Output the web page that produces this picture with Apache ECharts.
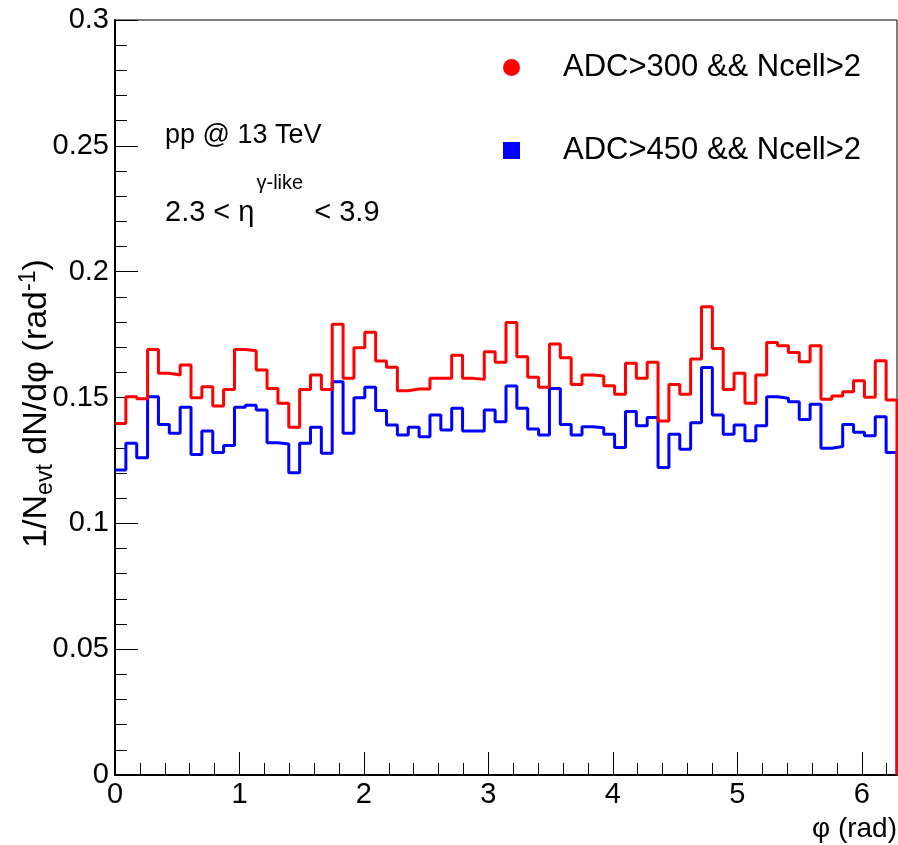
<!DOCTYPE html>
<html>
<head>
<meta charset="utf-8">
<script src="https://cdn.jsdelivr.net/npm/echarts@6/dist/echarts.min.js"></script>
<style>
html,body{margin:0;padding:0;background:#fff;}
#chart{width:898px;height:845px;}
</style>
</head>
<body>
<div id="chart"></div>
<script>
// ---- data ----
const PHI_MIN = 0;
const PHI_MAX = 2 * Math.PI;
const N_BINS = 72;
const seriesNames = ['ADC>300 && Ncell>2', 'ADC>450 && Ncell>2'];
const adc300 = [
  0.1397, 0.1503, 0.1495, 0.1691, 0.1596, 0.1589, 0.1629, 0.1499, 0.1543, 0.1466, 0.1532, 0.1691,
  0.1686, 0.1609, 0.1536, 0.1477, 0.1382, 0.1532, 0.1589, 0.1532, 0.1791, 0.1576, 0.1698, 0.1759,
  0.1645, 0.1620, 0.1527, 0.1534, 0.1534, 0.1576, 0.1576, 0.1668, 0.1576, 0.1572, 0.1682, 0.1640,
  0.1798, 0.1662, 0.1580, 0.1541, 0.1713, 0.1658, 0.1552, 0.1589, 0.1585, 0.1547, 0.1513, 0.1636,
  0.1576, 0.1640, 0.1407, 0.1552, 0.1513, 0.1653, 0.1861, 0.1695, 0.1532, 0.1596, 0.1477, 0.1589,
  0.1719, 0.1706, 0.1679, 0.1642, 0.1706, 0.1493, 0.1506, 0.1523, 0.1567, 0.1501, 0.1646, 0.1490
];
const adc450 = [
  0.1212, 0.1318, 0.1261, 0.1503, 0.1393, 0.1358, 0.1461, 0.1274, 0.1367, 0.1281, 0.1309, 0.1461,
  0.1469, 0.1450, 0.1320, 0.1315, 0.1201, 0.1318, 0.1382, 0.1278, 0.1563, 0.1358, 0.1499, 0.1541,
  0.1448, 0.1391, 0.1351, 0.1382, 0.1344, 0.1430, 0.1371, 0.1457, 0.1367, 0.1367, 0.1450, 0.1404,
  0.1546, 0.1457, 0.1375, 0.1351, 0.1536, 0.1393, 0.1351, 0.1384, 0.1380, 0.1354, 0.1301, 0.1444,
  0.1388, 0.1421, 0.1222, 0.1354, 0.1294, 0.1400, 0.1619, 0.1430, 0.1354, 0.1391, 0.1328, 0.1388,
  0.1503, 0.1497, 0.1483, 0.1413, 0.1473, 0.1298, 0.1305, 0.1393, 0.1362, 0.1348, 0.1424, 0.1281
];
const xTickLabels = ['0', '1', '2', '3', '4', '5', '6'];
const Y_MIN = 0, Y_MAX = 0.3, Y_STEP = 0.05;

// ---- build step outline (bin low edges + closing edge) ----
function histPoints(vals) {
  const w = (PHI_MAX - PHI_MIN) / N_BINS;
  const pts = vals.map((v, i) => [PHI_MIN + i * w, v]);
  pts.push([PHI_MAX, vals[vals.length - 1]]);
  pts.push([PHI_MAX, 0]);
  return pts;
}

const FONT = 'Liberation Sans, Arial, Helvetica, sans-serif';
const chart = echarts.init(document.getElementById('chart'), null, {renderer: 'canvas'});

const option = {
  animation: false,
  backgroundColor: '#fff',
  grid: {left: 115, right: 1, top: 20, bottom: 70, show: true, borderColor: '#000', borderWidth: 1,
         containLabel: false, outerBoundsMode: 'none'},
  legend: {
    orient: 'vertical', left: 498, top: 47, itemWidth: 17, itemHeight: 17, itemGap: 52,
    selectedMode: false,
    textStyle: {fontFamily: FONT, fontSize: 31, color: '#000', lineHeight: 30, padding: [0, 0, 0, 38]},
    data: [{name: seriesNames[0], icon: 'circle'}, {name: seriesNames[1], icon: 'rect'}]
  },
  xAxis: [{
    type: 'value', min: PHI_MIN, max: PHI_MAX, interval: 1, position: 'bottom',
    axisLine: {show: true, onZero: false, lineStyle: {color: '#000', width: 2}},
    axisTick: {show: true, inside: true, length: 23, lineStyle: {color: '#000', width: 1}},
    minorTick: {show: false},
    splitLine: {show: false},
    axisLabel: {fontFamily: FONT, fontSize: 29, color: '#000', margin: 5,
      formatter: v => { const r = Math.round(v); return Math.abs(v - r) < 1e-6 ? xTickLabels[r] : ''; }},
    name: 'φ (rad)', nameLocation: 'end', nameGap: 0, nameMoveOverlap: false,
    nameTextStyle: {fontFamily: FONT, fontSize: 28, color: '#000', align: 'right', verticalAlign: 'top', padding: [40, 0, 0, 0]}
  }, {
    type: 'value', min: PHI_MIN, max: PHI_MAX, interval: 0.2, position: 'bottom',
    axisLine: {show: false},
    axisTick: {show: true, inside: true, length: 12, lineStyle: {color: '#000', width: 1}},
    axisLabel: {show: false}, splitLine: {show: false}
  }],
  yAxis: {
    type: 'value', min: Y_MIN, max: Y_MAX, interval: Y_STEP,
    axisLine: {show: true, onZero: false, lineStyle: {color: '#000', width: 2}},
    axisTick: {show: true, inside: true, length: 23, lineStyle: {color: '#000', width: 1}},
    minorTick: {show: true, splitNumber: 5, length: 12, lineStyle: {color: '#000', width: 1}},
    splitLine: {show: false},
    axisLabel: {fontFamily: FONT, fontSize: 29, color: '#000', margin: 6},
    name: '{a|1/N}{sub|evt}{a| dN/dφ (rad}{sup|-1}{a|)}',
    nameLocation: 'middle', nameRotate: 90, nameGap: 58, nameMoveOverlap: false,
    nameTextStyle: {
      fontFamily: FONT, color: '#000', padding: [0, 12, 0, 0],
      rich: {
        a: {fontFamily: FONT, fontSize: 34, lineHeight: 40, color: '#000'},
        sub: {fontFamily: FONT, fontSize: 23, lineHeight: 18, verticalAlign: 'bottom', color: '#000'},
        sup: {fontFamily: FONT, fontSize: 23, lineHeight: 18, verticalAlign: 'top', color: '#000'}
      }
    }
  },
  series: [{
    name: seriesNames[1], type: 'line', step: 'end', xAxisIndex: 0, data: histPoints(adc450),
    showSymbol: false, symbol: 'rect', clip: false, color: '#0000ff',
    lineStyle: {color: '#0000ff', width: 3}, itemStyle: {color: '#0000ff'}, z: 2
  }, {
    name: seriesNames[0], type: 'line', step: 'end', xAxisIndex: 0, data: histPoints(adc300),
    showSymbol: false, symbol: 'circle', clip: false, color: '#ff0000',
    lineStyle: {color: '#ff0000', width: 3}, itemStyle: {color: '#ff0000'}, z: 3
  }],
  graphic: [{
    type: 'text', left: 165, top: 122,
    style: {text: 'pp @ 13 TeV', font: '27px ' + FONT, fill: '#000'}
  }, {
    type: 'text', left: 165, top: 173,
    style: {
      text: '{a|2.3 < η}{s|γ-like}{a| < 3.9}', fill: '#000',
      rich: {
        a: {font: '29px ' + FONT, lineHeight: 80, verticalAlign: 'middle', fill: '#000'},
        s: {font: '20px ' + FONT, lineHeight: 4, verticalAlign: 'top', fill: '#000', padding: [0, 3, 0, 2]}
      }
    }
  }]
};
chart.setOption(option);
</script>
</body>
</html>
